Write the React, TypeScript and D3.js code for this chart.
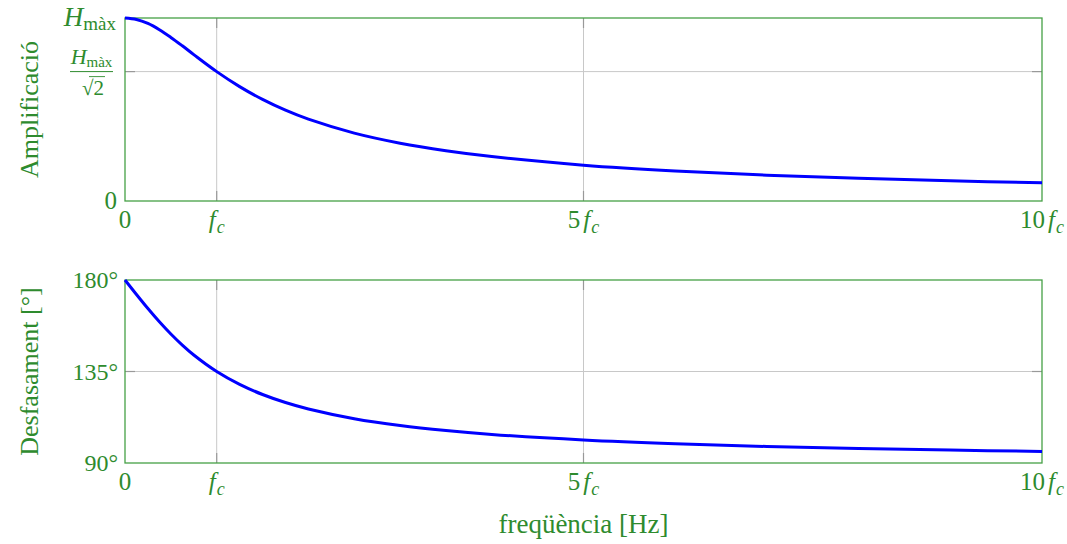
import React from "react";
import * as d3 from "d3";

// frequency in units of fc
const freqs = [0, 0.125, 0.25, 0.375, 0.5, 0.625, 0.75, 1, 1.25, 1.5, 1.75, 2, 2.5, 3, 3.5, 4, 5, 6, 7, 8, 9, 10];
// amplification relative to Hmax
const amplitude = [1, 0.992, 0.970, 0.936, 0.894, 0.848, 0.800, 0.707, 0.625, 0.555, 0.496, 0.447, 0.371, 0.316, 0.275, 0.243, 0.196, 0.164, 0.141, 0.124, 0.110, 0.0995];
// phase in degrees
const phase = [180, 172.87, 165.96, 159.44, 153.43, 147.99, 143.13, 135, 128.66, 123.69, 119.74, 116.57, 111.80, 108.43, 105.95, 104.04, 101.31, 99.46, 98.13, 97.13, 96.34, 95.71];

const xTicks = [0, 1, 5, 10];
const xTickPrefix = ["0", "", "5", "10"];
const phaseTicks = [90, 135, 180];
const ampTicks = [0, 1 / Math.SQRT2, 1];

const W = 1067;
const H = 544;
const GREEN = "#2e8b2e";
const AXIS = "#45a045";
const GRID = "#c8c8c8";
const FONT = "'Liberation Serif', 'DejaVu Serif', serif";

const x = d3.scaleLinear().domain([0, 10]).range([125, 1042]);
const yA = d3.scaleLinear().domain([0, 1]).range([201, 18]);
const yP = d3.scaleLinear().domain([90, 180]).range([463, 280]);

function XTickLabels({ y0 }: { y0: number }) {
  return (
    <g fill={GREEN} fontFamily={FONT} fontSize={25}>
      {xTicks.map((t, i) => (
        <text key={t} x={x(t)} y={y0} textAnchor="middle">
          {t === 0 ? (
            "0"
          ) : (
            <>
              <tspan>{xTickPrefix[i]}</tspan>
              <tspan fontStyle="italic" dx={xTickPrefix[i] ? 3 : 0}>f</tspan>
              <tspan fontStyle="italic" fontSize={18} dy={5} dx={1}>c</tspan>
            </>
          )}
        </text>
      ))}
    </g>
  );
}

function Panel({ y, ticks, data }: { y: d3.ScaleLinear<number, number>; ticks: number[]; data: number[] }) {
  const [r0, r1] = [y.range()[0], y.range()[1]];
  const line = d3
    .line<number>()
    .x((_, i) => x(freqs[i]))
    .y((d) => y(d))
    .curve(d3.curveCatmullRom.alpha(0.5));
  return (
    <g>
      {xTicks.slice(1, 3).map((t) => (
        <line key={"gx" + t} x1={x(t)} x2={x(t)} y1={r1} y2={r0} stroke={GRID} strokeWidth={1} />
      ))}
      {ticks.slice(1, 2).map((t) => (
        <line key={"gy" + t} x1={x(0)} x2={x(10)} y1={y(t)} y2={y(t)} stroke={GRID} strokeWidth={1} />
      ))}
      {xTicks.slice(1, 3).map((t) => (
        <g key={"tx" + t}>
          <line x1={x(t)} x2={x(t)} y1={r0} y2={r0 - 10} stroke="#999" strokeWidth={1.2} />
          <line x1={x(t)} x2={x(t)} y1={r1} y2={r1 + 10} stroke="#999" strokeWidth={1.2} />
        </g>
      ))}
      {ticks.slice(1, 2).map((t) => (
        <g key={"ty" + t}>
          <line x1={x(0)} x2={x(0) + 10} y1={y(t)} y2={y(t)} stroke="#999" strokeWidth={1.2} />
          <line x1={x(10)} x2={x(10) - 10} y1={y(t)} y2={y(t)} stroke="#999" strokeWidth={1.2} />
        </g>
      ))}
      <rect x={x(0)} y={r1} width={x(10) - x(0)} height={r0 - r1} fill="none" stroke={AXIS} strokeWidth={1.3} />
      <path d={line(data) || ""} fill="none" stroke="#0000ff" strokeWidth={3} strokeLinejoin="round" />
    </g>
  );
}

export default function App() {
  return (
    <div style={{ position: "absolute", left: 0, top: 0 }}>
      <svg width={W} height={H} style={{ display: "block" }}>
        <rect width={W} height={H} fill="#fff" />
        <Panel y={yA} ticks={ampTicks} data={amplitude} />
        <Panel y={yP} ticks={phaseTicks} data={phase} />

        {/* top y tick labels */}
        <g fill={GREEN} fontFamily={FONT}>
          <text x={117} y={yA(0) + 8} textAnchor="end" fontSize={25}>0</text>
          <text x={116} y={yA(1) + 8} textAnchor="end" fontSize={27}>
            <tspan fontStyle="italic">H</tspan>
            <tspan fontSize={19} dy={4}>màx</tspan>
          </text>
          <text x={91.5} y={yA(ampTicks[1]) - 8} textAnchor="middle" fontSize={22}>
            <tspan fontStyle="italic">H</tspan>
            <tspan fontSize={15} dy={3}>màx</tspan>
          </text>
          <line x1={70} x2={113} y1={yA(ampTicks[1])} y2={yA(ampTicks[1])} stroke={GREEN} strokeWidth={1} />
          <text x={93} y={yA(ampTicks[1]) + 23} textAnchor="middle" fontSize={21}>√2</text>
          <line x1={89} x2={105} y1={yA(ampTicks[1]) + 5} y2={yA(ampTicks[1]) + 5} stroke={GREEN} strokeWidth={0.9} />
        </g>

        {/* bottom y tick labels */}
        <g fill={GREEN} fontFamily={FONT} fontSize={24}>
          {phaseTicks.map((t) => (
            <text key={t} x={118} y={yP(t) + 8} textAnchor="end">{t}°</text>
          ))}
        </g>

        <XTickLabels y0={228} />
        <XTickLabels y0={490} />

        {/* axis labels */}
        <g fill={GREEN} fontFamily={FONT} fontSize={26}>
          <text transform={`translate(38,${(yA(0) + yA(1)) / 2}) rotate(-90)`} textAnchor="middle">Amplificació</text>
          <text transform={`translate(38,${(yP(90) + yP(180)) / 2}) rotate(-90)`} textAnchor="middle">Desfasament [°]</text>
          <text x={x(5)} y={533} textAnchor="middle" fontSize={27}>freqüència [Hz]</text>
        </g>
      </svg>
    </div>
  );
}
